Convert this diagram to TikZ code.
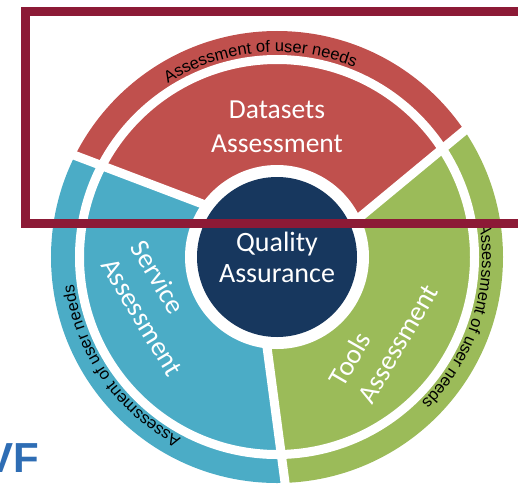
\documentclass[tikz,border=0pt]{standalone}
\usepackage{fontspec}
\usepackage{xcolor}
\usepackage{tikz}
\usetikzlibrary{shapes,positioning,decorations.text}
\newfontfamily\labelfont{Carlito}
\newfontfamily\ringfont{Liberation Sans}
\definecolor{dsred}{HTML}{C0504D}
\definecolor{svblue}{HTML}{4BACC6}
\definecolor{tlgreen}{HTML}{9BBB59}
\definecolor{qanavy}{HTML}{17375E}
\definecolor{framered}{HTML}{8C1A36}
\definecolor{logoblue}{HTML}{2E6DB4}

\begin{document}
\begin{tikzpicture}[x=1pt, y=1pt,
  wedgelabel/.style={text=white, font=\labelfont\fontsize{27.5}{34}\selectfont, align=left, inner sep=0},
  gap/.style={white, line width=9pt},
  ringtext/.style={decorate, decoration={text along path, text align=center,
    text={|\ringfont\fontsize{16.5}{16.5}\selectfont|Assessment of user needs}}}]
  \useasboundingbox (-277,-228) rectangle (241,257);
  \clip (-277,-228) rectangle (241,257);

  \coordinate (rb1) at (-47,42.6);
  \coordinate (rb2) at (-277,130);
  \coordinate (rg1) at (57,18.4);
  \coordinate (rg2) at (257,184);
  \coordinate (bg1) at (-14.5,-56);
  \coordinate (bg2) at (20,-316);

  \begin{scope}
    \clip (0,0) circle (226);
    \fill[dsred] (0,0) -- (rb1) -- (rb2) -- (-300,300) -- (300,300) -- (rg2) -- (rg1) -- cycle;
    \fill[svblue] (0,0) -- (rb1) -- (rb2) -- (-300,-300) -- (bg2) -- (bg1) -- cycle;
    \fill[tlgreen] (0,0) -- (rg1) -- (rg2) -- (300,-300) -- (bg2) -- (bg1) -- cycle;
  \end{scope}

  \draw[gap] (rb1) -- (rb2);
  \draw[gap] (rg1) -- (rg2);
  \draw[gap] (bg1) -- (bg2);
  \draw[gap] (0,0) circle (197.5);
  \fill[white] (0,0) circle (92);

  \node[circle, fill=qanavy, minimum size=160, inner sep=0, text=white,
    font=\labelfont\fontsize{28}{31}\selectfont, align=center] (quality) at (0,0) {Quality\\Assurance};

  \path[ringtext] (135:205) arc[start angle=135, end angle=55, radius=205];
  \path[ringtext] (255:205) arc[start angle=255, end angle=175, radius=205];
  \path[ringtext] (22:205) arc[start angle=22, end angle=-58, radius=205];

  \node[wedgelabel, align=center] (datasets) at (0,130) {Datasets\\Assessment};
  \node[wedgelabel, rotate=-59] (service) at (-120,-51) {Service\\Assessment};
  \node[wedgelabel, rotate=60] (tools) at (106,-78) {Tools\\Assessment};

  \draw[framered, line width=9] (-251.5,33.5) rectangle (260,245.5);

  \node[font=\ringfont\bfseries\fontsize{42}{42}\selectfont, text=logoblue, anchor=east, inner sep=0] (logo) at (-238,-201) {VF};
\end{tikzpicture}
\end{document}
